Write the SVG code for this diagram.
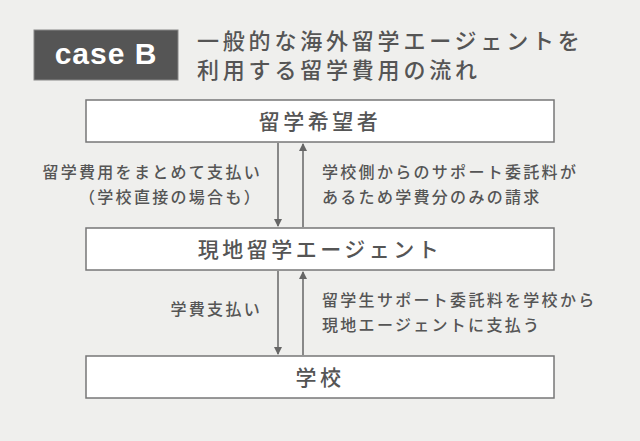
<svg xmlns="http://www.w3.org/2000/svg" width="640" height="441" viewBox="0 0 640 441">
<defs>
<style>
.t{font-family:"Noto Sans CJK JP","Noto Sans",sans-serif;fill:#555;font-weight:500;}
.box{fill:#fff;stroke:#777;stroke-width:1.5;}
.ln{stroke:#666;stroke-width:1.5;fill:none;}
.lb{font-size:16px;letter-spacing:2.3px;}
.nd{font-size:21px;letter-spacing:3.5px;}
</style>
<marker id="ah" markerWidth="8" markerHeight="8" refX="7" refY="4" orient="auto" markerUnits="userSpaceOnUse"><path d="M0,0 L8,4 L0,8 z" fill="#666"/></marker>
</defs>
<rect width="640" height="441" fill="#efefed"/>
<g id="header">
<rect x="34" y="30" width="144" height="50" fill="#555" stroke="#888" stroke-width="1"/>
<text x="106" y="64" text-anchor="middle" font-family="'Liberation Sans',sans-serif" font-weight="bold" font-size="30" fill="#fff" letter-spacing="1">case B</text>
<text class="t" x="197" y="49" font-size="22" letter-spacing="3.8">一般的な海外留学エージェントを</text>
<text class="t" x="197" y="78" font-size="22" letter-spacing="3.8">利用する留学費用の流れ</text>
</g>
<g id="n1"><rect class="box" x="86" y="100" width="468" height="42"/><text class="t nd" x="320" y="129" text-anchor="middle">留学希望者</text></g>
<g id="n2"><rect class="box" x="86" y="228" width="468" height="42"/><text class="t nd" x="320" y="257" text-anchor="middle">現地留学エージェント</text></g>
<g id="n3"><rect class="box" x="86" y="356" width="468" height="42"/><text class="t nd" x="320" y="385" text-anchor="middle">学校</text></g>
<g id="connectors">
<line class="ln" x1="278" y1="143" x2="278" y2="226" marker-end="url(#ah)"/>
<line class="ln" x1="303" y1="227" x2="303" y2="144" marker-end="url(#ah)"/>
<line class="ln" x1="278" y1="271" x2="278" y2="354" marker-end="url(#ah)"/>
<line class="ln" x1="303" y1="355" x2="303" y2="272" marker-end="url(#ah)"/>
<text class="t lb" x="262" y="178" text-anchor="end">留学費用をまとめて支払い</text>
<text class="t lb" x="262" y="203" text-anchor="end">（学校直接の場合も）</text>
<text class="t lb" x="322" y="178">学校側からのサポート委託料が</text>
<text class="t lb" x="322" y="203">あるため学費分のみの請求</text>
<text class="t lb" x="262" y="315" text-anchor="end">学費支払い</text>
<text class="t lb" x="322" y="306">留学生サポート委託料を学校から</text>
<text class="t lb" x="322" y="331">現地エージェントに支払う</text>
</g>
</svg>
